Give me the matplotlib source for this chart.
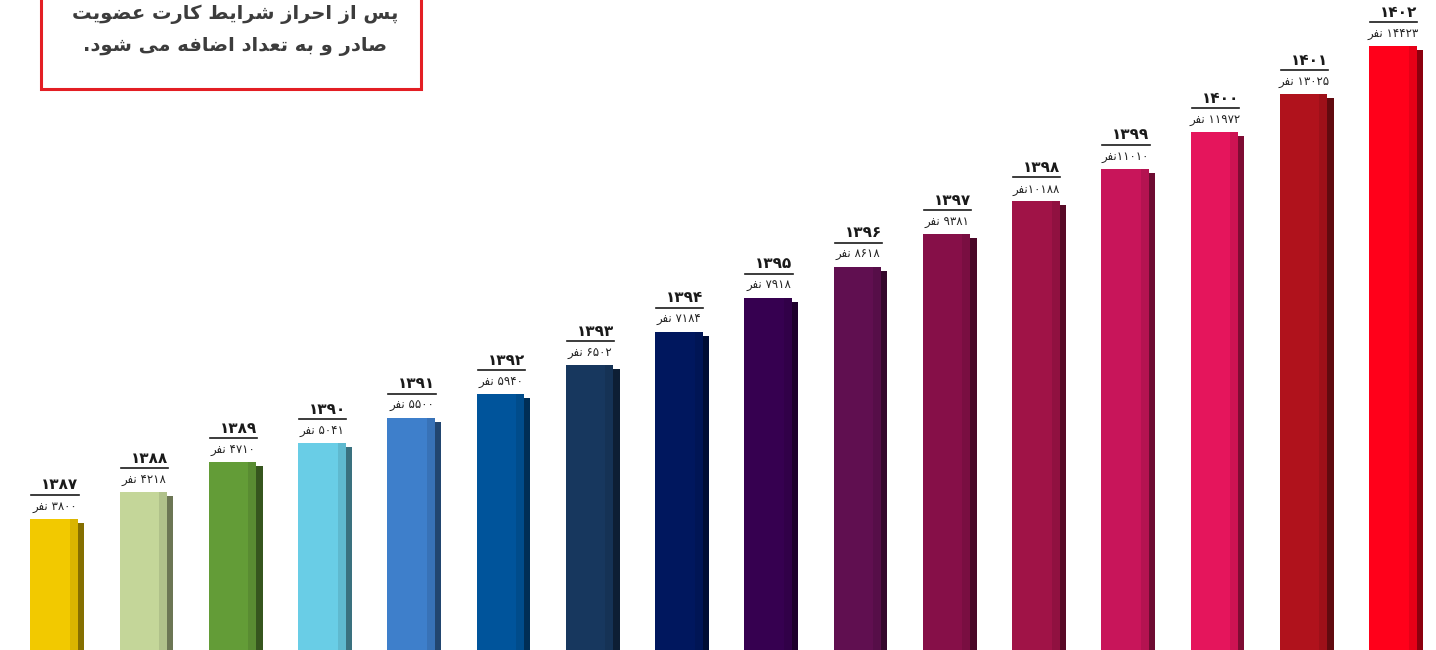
import matplotlib
matplotlib.use('Agg')
import matplotlib.pyplot as plt
from matplotlib.transforms import ScaledTranslation
from matplotlib.patches import Rectangle
from matplotlib.lines import Line2D
import matplotlib.colors as mcolors
import numpy as np

# ---------------- data ----------------
years = ['۱۳۸۷', '۱۳۸۸', '۱۳۸۹', '۱۳۹۰', '۱۳۹۱', '۱۳۹۲', '۱۳۹۳', '۱۳۹۴',
         '۱۳۹۵', '۱۳۹۶', '۱۳۹۷', '۱۳۹۸', '۱۳۹۹', '۱۴۰۰', '۱۴۰۱', '۱۴۰۲']
values = [3800, 4218, 4710, 5041, 5500, 5940, 6502, 7184,
          7918, 8618, 9381, 10188, 11010, 11972, 13025, 14423]
value_labels = ['۳۸۰۰ نفر', '۴۲۱۸ نفر', '۴۷۱۰ نفر', '۵۰۴۱ نفر', '۵۵۰۰ نفر',
                '۵۹۴۰ نفر', '۶۵۰۲ نفر', '۷۱۸۴ نفر', '۷۹۱۸ نفر', '۸۶۱۸ نفر',
                '۹۳۸۱ نفر', '۱۰۱۸۸نفر', '۱۱۰۱۰نفر', '۱۱۹۷۲ نفر', '۱۳۰۲۵ نفر',
                '۱۴۴۲۳ نفر']
colors = ['#F2C900', '#C4D699', '#639C37', '#69CDE6', '#3E7FCB', '#00549B',
          '#17375E', '#00175E', '#360050', '#600F50', '#860F48', '#A01347',
          '#C8155A', '#E5155C', '#B0121C', '#FF001A']
note_lines = ['پس از احراز شرایط کارت عضویت', 'صادر و به تعداد اضافه می شود.']

# ---------------- simple Persian shaping ----------------
DUAL = {
    'ب': ('\uFE8F', '\uFE90', '\uFE91', '\uFE92'),
    'پ': ('\uFB56', '\uFB57', '\uFB58', '\uFB59'),
    'ت': ('\uFE95', '\uFE96', '\uFE97', '\uFE98'),
    'ث': ('\uFE99', '\uFE9A', '\uFE9B', '\uFE9C'),
    'ج': ('\uFE9D', '\uFE9E', '\uFE9F', '\uFEA0'),
    'چ': ('\uFB7A', '\uFB7B', '\uFB7C', '\uFB7D'),
    'ح': ('\uFEA1', '\uFEA2', '\uFEA3', '\uFEA4'),
    'خ': ('\uFEA5', '\uFEA6', '\uFEA7', '\uFEA8'),
    'س': ('\uFEB1', '\uFEB2', '\uFEB3', '\uFEB4'),
    'ش': ('\uFEB5', '\uFEB6', '\uFEB7', '\uFEB8'),
    'ص': ('\uFEB9', '\uFEBA', '\uFEBB', '\uFEBC'),
    'ض': ('\uFEBD', '\uFEBE', '\uFEBF', '\uFEC0'),
    'ط': ('\uFEC1', '\uFEC2', '\uFEC3', '\uFEC4'),
    'ظ': ('\uFEC5', '\uFEC6', '\uFEC7', '\uFEC8'),
    'ع': ('\uFEC9', '\uFECA', '\uFECB', '\uFECC'),
    'غ': ('\uFECD', '\uFECE', '\uFECF', '\uFED0'),
    'ف': ('\uFED1', '\uFED2', '\uFED3', '\uFED4'),
    'ق': ('\uFED5', '\uFED6', '\uFED7', '\uFED8'),
    'ک': ('\uFB8E', '\uFB8F', '\uFB90', '\uFB91'),
    'ك': ('\uFED9', '\uFEDA', '\uFEDB', '\uFEDC'),
    'گ': ('\uFB92', '\uFB93', '\uFB94', '\uFB95'),
    'ل': ('\uFEDD', '\uFEDE', '\uFEDF', '\uFEE0'),
    'م': ('\uFEE1', '\uFEE2', '\uFEE3', '\uFEE4'),
    'ن': ('\uFEE5', '\uFEE6', '\uFEE7', '\uFEE8'),
    'ه': ('\uFEE9', '\uFEEA', '\uFEEB', '\uFEEC'),
    'ی': ('\uFBFC', '\uFBFD', '\uFBFE', '\uFBFF'),
    'ي': ('\uFEF1', '\uFEF2', '\uFEF3', '\uFEF4'),
}
RIGHT = {
    'ا': ('\uFE8D', '\uFE8E'),
    'آ': ('\uFE81', '\uFE82'),
    'د': ('\uFEA9', '\uFEAA'),
    'ذ': ('\uFEAB', '\uFEAC'),
    'ر': ('\uFEAD', '\uFEAE'),
    'ز': ('\uFEAF', '\uFEB0'),
    'ژ': ('\uFB8A', '\uFB8B'),
    'و': ('\uFEED', '\uFEEE'),
}
DIGITS = set('0123456789۰۱۲۳۴۵۶۷۸۹')


def rtl(text):
    chars = list(text)
    n = len(chars)
    out = []
    for i, c in enumerate(chars):
        if c in DUAL or c in RIGHT:
            prev_j = i > 0 and chars[i - 1] in DUAL
            next_j = c in DUAL and i + 1 < n and (chars[i + 1] in DUAL or chars[i + 1] in RIGHT)
            if c in DUAL:
                f = DUAL[c]
                if prev_j and next_j:
                    out.append(f[3])
                elif prev_j:
                    out.append(f[1])
                elif next_j:
                    out.append(f[2])
                else:
                    out.append(f[0])
            else:
                f = RIGHT[c]
                out.append(f[1] if prev_j else f[0])
        else:
            out.append(c)
    out = out[::-1]
    res = []
    run = []
    for c in out:
        if c in DIGITS:
            run.append(c)
        else:
            if run:
                res.extend(run[::-1])
                run = []
            res.append(c)
    if run:
        res.extend(run[::-1])
    return ''.join(res)


plt.rcParams['font.family'] = ['DejaVu Sans']

# ---------------- figure ----------------
fig = plt.figure(figsize=(14.36, 6.5), dpi=100)
ax = fig.add_axes([0, 0, 1, 1])
ax.set_yscale('function', functions=(lambda v: np.sqrt(np.clip(v, 0, None)),
                                      lambda s: np.square(s)))
ax.set_xlim(-0.6415, 15.448)
ax.set_ylim(2065, 15821)
ax.axis('off')

x = np.arange(len(values))
side_colors = [tuple(np.array(mcolors.to_rgb(c)) * 0.55) for c in colors]
mid_colors = [tuple(np.array(mcolors.to_rgb(c)) * 0.9) for c in colors]

ax.bar(x - 0.30, values, width=0.44, align='edge', color=colors, linewidth=0, zorder=2)
ax.bar(x + 0.14, values, width=0.09, align='edge', color=mid_colors, linewidth=0, zorder=2)
down = ax.transData + ScaledTranslation(0, -4 / 100, fig.dpi_scale_trans)
ax.bar(x + 0.225, values, width=0.075, align='edge', color=side_colors,
       linewidth=0, zorder=1, transform=down)

line_tr = ax.transData + ScaledTranslation(0, 24 / 100, fig.dpi_scale_trans)
for i in range(len(values)):
    ax.annotate(rtl(value_labels[i]), xy=(x[i] - 0.03, values[i]),
                xytext=(0, 12 * 0.72), textcoords='offset points',
                ha='center', va='center', fontsize=8.5, color='#222222')
    ax.add_line(Line2D([x[i] - 0.29, x[i] + 0.24], [values[i], values[i]],
                       transform=line_tr, color='#1a1a1a', lw=1.2))
    ax.annotate(rtl(years[i]), xy=(x[i] + 0.03, values[i]),
                xytext=(0, 34 * 0.72), textcoords='offset points',
                ha='center', va='center', fontsize=11, fontweight='bold',
                color='#1a1a1a')

# note box
fig.patches.append(Rectangle((41 / 1436, 1 - 89 / 650), 380 / 1436, 0.3,
                             transform=fig.transFigure, facecolor='white',
                             edgecolor='#E31E24', lw=2.2, zorder=5))
fig.text(235 / 1436, 1 - 14 / 650, rtl(note_lines[0]), ha='center', va='center',
         fontsize=14, fontweight='bold', color='#3C3C3C', zorder=6)
fig.text(235 / 1436, 1 - 47 / 650, rtl(note_lines[1]), ha='center', va='center',
         fontsize=14, fontweight='bold', color='#3C3C3C', zorder=6)

fig.savefig('out.png', dpi=100)
